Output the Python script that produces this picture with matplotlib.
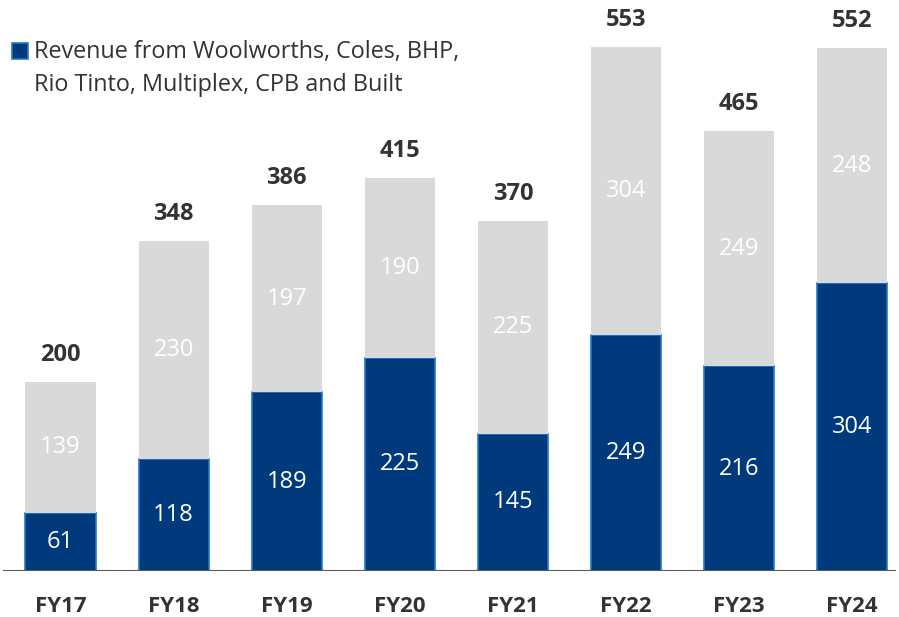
import matplotlib.pyplot as plt
from matplotlib.patches import Rectangle

years = ["FY17", "FY18", "FY19", "FY20", "FY21", "FY22", "FY23", "FY24"]
key_clients = [61, 118, 189, 225, 145, 249, 216, 304]
other = [139, 230, 197, 190, 225, 304, 249, 248]
totals = [200, 348, 386, 415, 370, 553, 465, 552]

BLUE = "#003a7d"
EDGE = "#1f7ac8"
GREY = "#d9d9d9"
DARK = "#333333"

plt.rcParams['font.family'] = ['Open Sans', 'DejaVu Sans']

fig = plt.figure(figsize=(8.99, 6.17), dpi=100)
ax = fig.add_axes([0, 46 / 617, 1, 571 / 617])

x = list(range(len(years)))
ax.bar(x, key_clients, width=0.62, color=BLUE, edgecolor=EDGE, linewidth=1.2, zorder=2)
ax.bar(x, other, width=0.62, bottom=key_clients, color=GREY, linewidth=0, zorder=2)

for i in x:
    ax.text(i, key_clients[i] / 2, str(key_clients[i]), ha="center", va="center",
            color="white", fontsize=17)
    ax.text(i, key_clients[i] + other[i] / 2, str(other[i]), ha="center", va="center",
            color="white", fontsize=17)
    ax.annotate(str(totals[i]), (i, totals[i]), xytext=(0, 19.5), textcoords="offset points",
                ha="center", va="center", color=DARK, fontsize=17, fontweight="bold")

ax.set_xlim(-0.535, 7.414)
ax.set_ylim(0, 603)
ax.axhline(0, xmin=0.005, xmax=0.995, color="#595959", linewidth=1.5, zorder=3)

ax.set_xticks(x)
ax.set_xticklabels(years, fontsize=16, fontweight="bold", color=DARK)
ax.tick_params(axis="x", length=0, pad=18)
ax.set_yticks([])
for s in ax.spines.values():
    s.set_visible(False)

# legend drawn by hand so the square sits next to the first line
fig.patches.append(Rectangle((12 / 899, 1 - 59 / 617), 16 / 899, 16 / 617,
                             transform=fig.transFigure, facecolor=BLUE,
                             edgecolor=EDGE, linewidth=1.2))
fig.text(34 / 899, 1 - 40 / 617, "Revenue from Woolworths, Coles, BHP,\nRio Tinto, Multiplex, CPB and Built",
         ha="left", va="top", fontsize=16.8, color=DARK, linespacing=1.48,
         transform=fig.transFigure)

fig.savefig("out.png", dpi=100)
